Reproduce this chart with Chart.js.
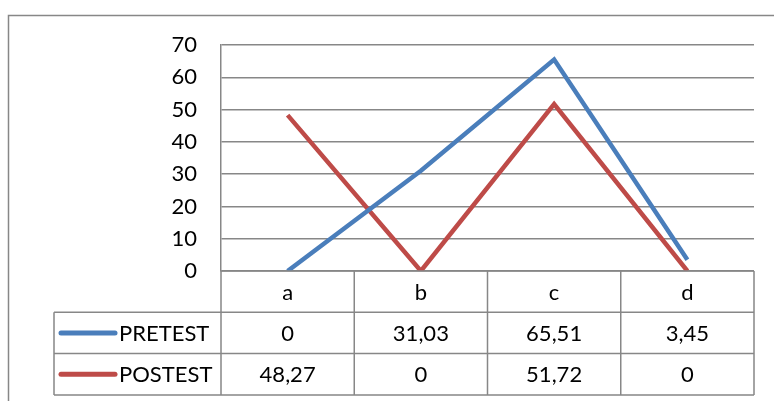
<!DOCTYPE html>
<html><head><meta charset="utf-8">
<script src="https://cdn.jsdelivr.net/npm/chart.js@4"></script>
<style>html,body{margin:0;padding:0;background:#fff}#c{display:block}</style>
</head><body>
<canvas id="c" width="774" height="401"></canvas>
<script>
const categories = ['a', 'b', 'c', 'd'];
const seriesNames = ['PRETEST', 'POSTEST'];
const pretest = [0, 31.03, 65.51, 3.45];
const posttest = [48.27, 0, 51.72, 0];
const seriesColors = ['#4A7EBB', '#BE4B48'];
const yTicks = [0, 10, 20, 30, 40, 50, 60, 70];

const FONT = 'Lato';
const FS = 22;
const GRID = '#878787';

function fmt(v) { return String(v).replace('.', ','); }

const tablePlugin = {
  id: 'tablePlugin',
  beforeDraw(chart) {
    const ctx = chart.ctx;
    ctx.save();
    ctx.strokeStyle = GRID;
    ctx.lineWidth = 1.5;
    ctx.beginPath();
    ctx.moveTo(8.5, 420); ctx.lineTo(8.5, 15.5); ctx.lineTo(800, 15.5);
    ctx.stroke();
    ctx.restore();
  },
  afterDatasetsDraw(chart) {
    const ctx = chart.ctx;
    const x = chart.scales.x, ca = chart.chartArea;
    const half = (x.getPixelForValue(1) - x.getPixelForValue(0)) / 2;
    const left = ca.left, right = ca.right, top = ca.bottom;
    const rowH = 41.3;
    const legLeft = 54;
    const rows = [top, top + rowH, top + 2 * rowH, top + 3 * rowH];
    ctx.save();
    ctx.strokeStyle = GRID;
    ctx.lineWidth = 1.5;
    ctx.beginPath();
    // horizontal lines
    ctx.moveTo(left, rows[0]); ctx.lineTo(right, rows[0]);
    for (let i = 1; i < 4; i++) { ctx.moveTo(legLeft, rows[i]); ctx.lineTo(right, rows[i]); }
    // vertical lines
    ctx.moveTo(left, rows[0]); ctx.lineTo(left, rows[3]);
    ctx.moveTo(legLeft, rows[1]); ctx.lineTo(legLeft, rows[3]);
    categories.forEach((c, i) => {
      const xr = x.getPixelForValue(i) + half;
      ctx.moveTo(xr, rows[0]); ctx.lineTo(xr, rows[3]);
    });
    ctx.stroke();
    ctx.fillStyle = '#000';
    ctx.font = FS + 'px ' + FONT;
    ctx.textAlign = 'center';
    ctx.textBaseline = 'middle';
    categories.forEach((c, i) => ctx.fillText(c, x.getPixelForValue(i), (rows[0] + rows[1]) / 2 + 1));
    const data = [pretest, posttest];
    data.forEach((arr, r) => {
      const cy = (rows[r + 1] + rows[r + 2]) / 2 + 1;
      arr.forEach((v, i) => ctx.fillText(fmt(v), x.getPixelForValue(i), cy));
      ctx.strokeStyle = seriesColors[r];
      ctx.lineWidth = 5;
      ctx.lineCap = 'round';
      ctx.beginPath();
      ctx.moveTo(61, cy - 1); ctx.lineTo(115, cy - 1);
      ctx.stroke();
      ctx.textAlign = 'left';
      ctx.fillText(seriesNames[r], 119, cy);
      ctx.textAlign = 'center';
    });
    ctx.restore();
  }
};

new Chart(document.getElementById('c'), {
  type: 'line',
  data: {
    labels: categories,
    datasets: [
      { label: seriesNames[0], data: pretest, borderColor: seriesColors[0], backgroundColor: seriesColors[0], borderWidth: 4.5, pointRadius: 0, tension: 0, borderJoinStyle: 'miter' },
      { label: seriesNames[1], data: posttest, borderColor: seriesColors[1], backgroundColor: seriesColors[1], borderWidth: 4.5, pointRadius: 0, tension: 0, borderJoinStyle: 'miter' }
    ]
  },
  options: {
    responsive: false,
    animation: false,
    layout: { padding: { left: 0, right: 20, top: 45, bottom: 130 } },
    plugins: { legend: { display: false }, tooltip: { enabled: false } },
    scales: {
      x: {
        offset: true,
        grid: { display: false },
        border: { display: false },
        ticks: { display: false },
        afterFit(s) { s.height = 0; }
      },
      y: {
        min: 0, max: 70,
        afterBuildTicks(s) { s.ticks = yTicks.map(v => ({ value: v })); },
        ticks: { font: { family: FONT, size: FS }, color: '#000', padding: 24 },
        grid: { color: GRID, lineWidth: 1.5, drawTicks: false },
        border: { color: GRID, width: 1.5 },
        afterFit(s) { s.width = 221; }
      }
    }
  },
  plugins: [tablePlugin]
});
</script>
</body></html>
